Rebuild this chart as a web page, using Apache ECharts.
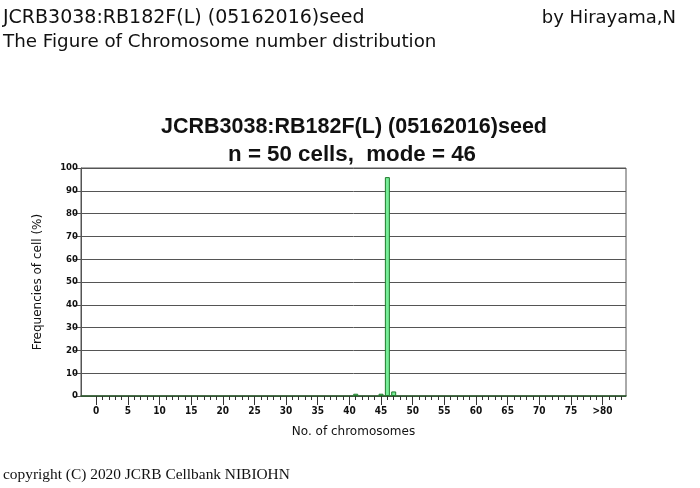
<!DOCTYPE html>
<html><head><meta charset="utf-8">
<script src="https://cdn.jsdelivr.net/npm/echarts@6/dist/echarts.min.js"></script>
<style>html,body{margin:0;padding:0;background:#fff}#c{width:700px;height:488px}</style>
</head><body><div id="c"></div>
<script>
// Data
const chromosomeNumbers = [41, 45, 46, 47];
const frequencies = [1, 1, 96, 2];
const xRangeEnd = 83;
const xMajorTicks = [0,5,10,15,20,25,30,35,40,45,50,55,60,65,70,75,80];
const xMajorLabels = ['0','5','10','15','20','25','30','35','40','45','50','55','60','65','70','75','>80'];

const minorTicks = [];
for (let i = 0; i <= xRangeEnd; i++) minorTicks.push(i);
const barData = chromosomeNumbers.map((c, i) => [c, frequencies[i]]);

const chart = echarts.init(document.getElementById('c'), null, {renderer: 'canvas'});
const xMin = -2.4, xMax = 83.7;
chart.setOption({
  animation: false,
  backgroundColor: '#fff',
  graphic: [
    {type: 'text', left: 3, top: 9, style: {text: 'JCRB3038:RB182F(L) (05162016)seed', font: '19px "DejaVu Sans"', fill: '#111'}},
    {type: 'text', left: 3, top: 33, style: {text: 'The Figure of Chromosome number distribution', font: '18.3px "DejaVu Sans"', fill: '#111'}},
    {type: 'text', right: 24, top: 9, style: {text: 'by Hirayama,N', font: '18px "DejaVu Sans"', fill: '#111'}},
    {type: 'text', left: 3, top: 467, style: {text: 'copyright (C) 2020 JCRB Cellbank NIBIOHN', font: '15.4px "Liberation Serif"', fill: '#111'}}
  ],
  title: [
    {text: 'JCRB3038:RB182F(L) (05162016)seed', left: 349, top: 111, textAlign: 'center',
     textStyle: {fontFamily: 'Liberation Sans', fontWeight: 'bold', fontSize: 21.5, color: '#111'}},
    {text: 'n = 50 cells,  mode = 46', left: 347, top: 139, textAlign: 'center',
     textStyle: {fontFamily: 'Liberation Sans', fontWeight: 'bold', fontSize: 22.3, color: '#111'}}
  ],
  grid: {left: 81, right: 74, top: 168, bottom: 92, show: true, borderColor: '#555', borderWidth: 1, containLabel: false},
  xAxis: [
    {type: 'value', min: xMin, max: xMax, position: 'bottom',
     axisLine: {show: true, onZero: false, lineStyle: {color: '#2a5a2a', width: 1.5}},
     axisTick: {show: true, customValues: minorTicks, length: 4, lineStyle: {color: '#333'}},
     axisLabel: {show: false}, splitLine: {show: false},
     name: 'No. of chromosomes', nameLocation: 'middle', nameGap: 30,
     nameTextStyle: {fontFamily: 'DejaVu Sans', fontSize: 12, color: '#111'}},
    {type: 'value', min: xMin, max: xMax, position: 'bottom',
     axisLine: {show: false, onZero: false},
     axisTick: {show: true, customValues: xMajorTicks, length: 9, lineStyle: {color: '#333'}},
     axisLabel: {show: true, customValues: xMajorTicks, margin: 10,
       formatter: v => xMajorLabels[xMajorTicks.indexOf(Math.round(v))] || '',
       fontFamily: 'DejaVu Sans Condensed', fontWeight: 'bold', fontSize: 10, color: '#111'},
     splitLine: {show: false}}
  ],
  yAxis: {type: 'value', min: 0, max: 100, interval: 10,
    axisLine: {show: true, onZero: false, lineStyle: {color: '#555'}},
    axisTick: {show: true, length: 7, lineStyle: {color: '#555'}},
    axisLabel: {margin: 3, fontFamily: 'DejaVu Sans Condensed', fontWeight: 'bold', fontSize: 9.5, color: '#111'},
    splitLine: {show: true, lineStyle: {color: '#555', width: 1}},
    name: 'Frequencies of cell (%)', nameLocation: 'middle', nameGap: 37, nameRotate: 90,
    nameTextStyle: {fontFamily: 'DejaVu Sans', fontSize: 12, color: '#111'}},
  series: [{
    type: 'bar', xAxisIndex: 0, data: barData, barWidth: 5,
    itemStyle: {color: '#77ee99', borderColor: '#1f7a2a', borderWidth: 1}
  }]
});
</script></body></html>
